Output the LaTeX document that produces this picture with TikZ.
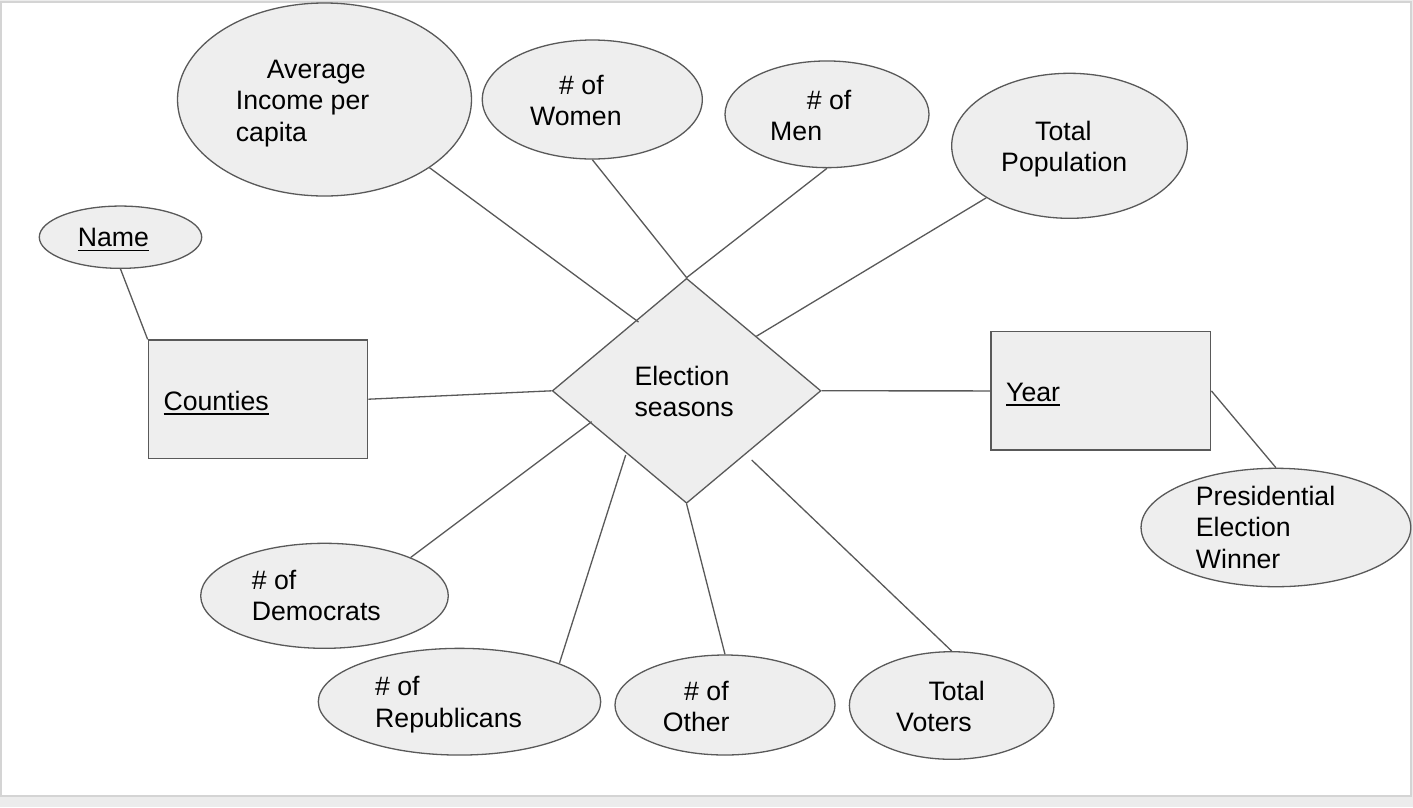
\documentclass[tikz,border=0pt]{standalone}
\usepackage{fontspec}
\setmainfont{Liberation Sans}
\usetikzlibrary{shapes.geometric}
\definecolor{shapefill}{HTML}{EEEEEE}
\definecolor{shapeline}{HTML}{595959}
\definecolor{pageband}{HTML}{ECECEC}
\definecolor{pageedge}{HTML}{D4D4D4}
% strut giving every text line the same height, depth and spacing
\newcommand\lnstrut{\rule[-8pt]{0pt}{31.5pt}}
% underlined key attribute
\newcommand\ulined[1]{\setbox0\hbox{#1}\rlap{\rule[-4.5pt]{\wd0}{1.3pt}}\box0}

\begin{document}
\begin{tikzpicture}[x=1pt,y=-1pt,
  attr/.style={ellipse, draw=shapeline, fill=shapefill, line width=1.3pt, inner sep=0pt},
  entity/.style={rectangle, draw=shapeline, fill=shapefill, line width=1.3pt, inner sep=0pt},
  rel/.style={diamond, draw=shapeline, fill=shapefill, line width=1.3pt, inner sep=0pt},
  link/.style={draw=shapeline, line width=1.3pt},
  lbl/.style={anchor=north west, align=left, inner sep=0pt,
              font=\fontsize{26.67}{31.5}\selectfont, text=black}]

\useasboundingbox (0,0) rectangle (1413,807);
% page
\fill[pageband] (0,0) rectangle (1413,807);
\filldraw[fill=white, draw=pageedge, line width=1.5pt] (0.75,2) rectangle (1411,796);

% attributes, entities and the relationship
\node[attr, minimum width=294pt, minimum height=193pt] (avg) at (324.5,99.5) {};
\node[attr, minimum width=220pt, minimum height=119pt] (women) at (592.3,99.5) {};
\node[attr, minimum width=204pt, minimum height=106.7pt] (men) at (827,114.3) {};
\node[attr, minimum width=235.6pt, minimum height=145pt] (pop) at (1069.5,145.8) {};
\node[attr, minimum width=162.4pt, minimum height=62.3pt] (name) at (120.5,237.2) {};
\node[entity, minimum width=219.4pt, minimum height=118.3pt] (counties) at (258,399.2) {};
\node[rel, minimum width=268.7pt, minimum height=225pt] (elec) at (686.6,390.8) {};
\node[entity, minimum width=219.7pt, minimum height=118.3pt] (year) at (1100.9,390.9) {};
\node[attr, minimum width=269.7pt, minimum height=118.4pt] (pres) at (1275.9,527.5) {};
\node[attr, minimum width=247.6pt, minimum height=105pt] (dem) at (324.5,595.8) {};
\node[attr, minimum width=282.4pt, minimum height=106.7pt] (rep) at (459.5,701.7) {};
\node[attr, minimum width=220pt, minimum height=100pt] (other) at (725,705) {};
\node[attr, minimum width=204.7pt, minimum height=107.6pt] (voters) at (951.7,705.5) {};

% loose ends of some connectors near the diamond
\coordinate (endavg) at (638.5,322);
\coordinate (enddem) at (591.7,421.7);
\coordinate (endrep) at (625.7,455);
\coordinate (endvoters) at (751.7,460);

% connectors
\draw[link] (avg.-33.4) -- (endavg);
\draw[link] (women.south) -- (elec.north);
\draw[link] (men.south) -- (elec.north);
\draw[link] (pop.212.3) -- (elec.38.6);
\draw[link] (counties.east) -- (elec.west);
\draw[link] (elec.east) -- (year.west);
\draw[link] (name.south) -- (counties.north west);
\draw[link] (year.east) -- (pres.north);
\draw[link] (dem.24) -- (enddem);
\draw[link] (rep.21) -- (endrep);
\draw[link] (elec.south) -- (other.north);
\draw[link] (voters.north) -- (endvoters);

% texts
\node[lbl] (tavg) at (235.7,54.5) {\lnstrut\hspace*{31pt}Average\\\lnstrut Income per\\\lnstrut capita};
\node[lbl] (twomen) at (530,70.5) {\lnstrut\hspace*{29pt}\# of\\\lnstrut Women};
\node[lbl] (tmen) at (770,85.5) {\lnstrut\hspace*{36.7pt}\# of\\\lnstrut Men};
\node[lbl] (tpop) at (1001,116.5) {\lnstrut\hspace*{34pt}Total\\\lnstrut Population};
\node[lbl] (tname) at (77.7,223.2) {\lnstrut\ulined{Name}};
\node[lbl] (tcounties) at (163.3,386.5) {\lnstrut\ulined{Counties}};
\node[lbl] (telec) at (634.3,361.5) {\lnstrut Election\\\lnstrut seasons};
\node[lbl] (tyear) at (1006,377.5) {\lnstrut\ulined{Year}};
\node[lbl] (tpres) at (1195.7,481.5) {\lnstrut Presidential\\\lnstrut Election\\\lnstrut Winner};
\node[lbl] (tdem) at (251.7,565.5) {\lnstrut\# of\\\lnstrut Democrats};
\node[lbl] (trep) at (375,672.2) {\lnstrut\# of\\\lnstrut Republicans};
\node[lbl] (tother) at (662.7,676.5) {\lnstrut\hspace*{21.3pt}\# of\\\lnstrut Other};
\node[lbl] (tvoters) at (896,676.5) {\lnstrut\hspace*{32.3pt}Total\\\lnstrut Voters};
\end{tikzpicture}
\end{document}
